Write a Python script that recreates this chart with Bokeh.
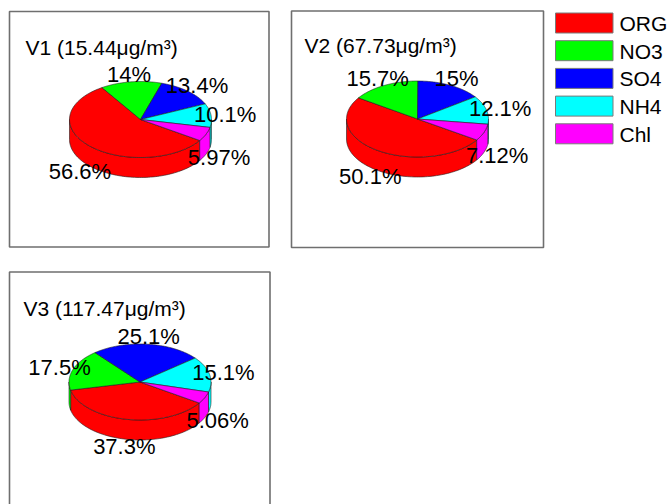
import numpy as np
from bokeh.plotting import figure
from bokeh.models import Range1d
from bokeh.core.properties import value
from bokeh.embed import file_html
from bokeh.resources import INLINE

# Aerosol composition (%), three visits
components = ["ORG", "NO3", "SO4", "NH4", "Chl"]
colors = ["#ff0000", "#00ff00", "#0000ff", "#00ffff", "#ff00ff"]
v1_share = [56.6, 14, 13.4, 10.1, 5.97]
v2_share = [50.1, 15.7, 15, 12.1, 7.12]
v3_share = [37.3, 17.5, 25.1, 15.1, 5.06]
panel_names = ["V1", "V2", "V3"]
panel_totals = [15.44, 67.73, 117.47]

FONT = value("Liberation Sans")

W, H = 668, 504
p = figure(width=W, height=H, output_backend="svg", toolbar_location=None,
           x_range=Range1d(0, W), y_range=Range1d(H, 0), min_border=0)
p.axis.visible = False
p.grid.visible = False
p.outline_line_color = None
p.background_fill_color = "white"
p.border_fill_color = "white"

# panel frames: (left, top, right, bottom)
frames = [(9, 11, 268.5, 246.5), (291, 10.5, 543, 247), (9, 271.5, 269.5, 520)]
p.quad(left=[f[0] for f in frames], right=[f[2] for f in frames],
       top=[f[1] for f in frames], bottom=[f[3] for f in frames],
       fill_color="white", line_color="#6f6f6f", line_width=1.6)

# pie layout per panel: centre of top face, radii, thickness
pie_centres = [(140, 119), (417, 118.5), (139.5, 381.5)]
RX, RY, THICK = 71, 38, 20
START = -33.5  # degrees, slices run clockwise from here
title_pos = [(25, 47), (304, 45), (23, 308)]


def ell(cx, cy, t, dz=0.0):
    r = np.radians(t)
    return cx + RX * np.cos(r), cy - RY * np.sin(r) + dz


def draw_pie(shares, cx, cy):
    fr = np.array(shares, dtype=float)
    fr = fr / fr.sum()
    cum = np.concatenate([[0], np.cumsum(fr)])
    spans = [(START - 360 * cum[k + 1], START - 360 * cum[k]) for k in range(len(fr))]

    side_xs, side_ys, side_c = [], [], []
    top_xs, top_ys, top_c = [], [], []
    for (a0, a1), col in zip(spans, colors):
        # visible outer wall: lower half of the ellipse
        for off in (-720, -360, 0, 360):
            lo, hi = max(a0, 180 + off), min(a1, 360 + off)
            if hi > lo:
                t = np.linspace(lo, hi, 80)
                x, y = ell(cx, cy, t)
                xb, yb = ell(cx, cy, t[::-1], THICK)
                side_xs.append(list(np.concatenate([x, xb])))
                side_ys.append(list(np.concatenate([y, yb])))
                side_c.append(col)
        t = np.linspace(a0, a1, 120)
        x, y = ell(cx, cy, t)
        top_xs.append([cx] + list(x))
        top_ys.append([cy] + list(y))
        top_c.append(col)

    p.patches(side_xs, side_ys, fill_color=side_c, line_color="#202020", line_width=0.6)
    p.patches(top_xs, top_ys, fill_color=top_c, line_color="#202020", line_width=0.6)

    # percentage labels outside each slice
    lx, ly, lt = [], [], []
    for (a0, a1), s in zip(spans, shares):
        m = 0.5 * (a0 + a1)
        r = np.radians(m)
        x = cx + 1.2 * RX * np.cos(r)
        y = cy - 1.2 * RY * np.sin(r) + (THICK if np.sin(r) < 0 else 0)
        lx.append(x)
        ly.append(y)
        lt.append(f"{s:g}%")
    p.text(x=lx, y=ly, text=lt, text_font=FONT, text_font_size="22px",
           text_align="center", text_baseline="middle", text_color="black")


for shares, (cx, cy) in zip([v1_share, v2_share, v3_share], pie_centres):
    draw_pie(shares, cx, cy)

p.text(x=[t[0] for t in title_pos], y=[t[1] for t in title_pos],
       text=[f"{n} ({tot:.2f}μg/m³)" for n, tot in zip(panel_names, panel_totals)],
       text_font=FONT, text_font_size="21px", text_align="left",
       text_baseline="alphabetic", text_color="black")

# legend
leg_top = [12.5 + 27.7 * i for i in range(len(components))]
p.quad(left=[555] * 5, right=[612.5] * 5, top=leg_top,
       bottom=[t + 20 for t in leg_top], fill_color=colors,
       line_color="#7a7a7a", line_width=1)
p.text(x=[619] * 5, y=[t + 10.5 for t in leg_top], text=components,
       text_font=FONT, text_font_size="21px", text_align="left",
       text_baseline="middle", text_color="black")

open("out.html", "w").write(file_html(p, INLINE))
